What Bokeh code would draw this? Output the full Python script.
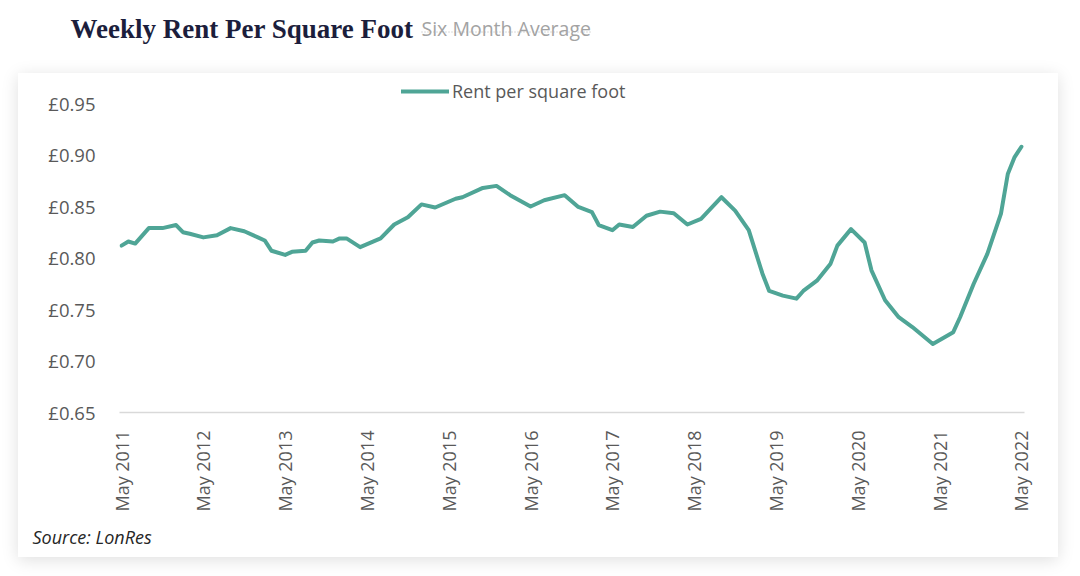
import pandas as pd
from bokeh.plotting import figure
from bokeh.models import (Range1d, FixedTicker, Legend, LegendItem, Label, Title,
                          PrintfTickFormatter, ColumnDataSource, Spacer)
from bokeh.layouts import row
from bokeh.embed import file_html
from bokeh.resources import INLINE

# ---------------- data ----------------
months = [
    "2011-05", "2011-06", "2011-07", "2011-09", "2011-11", "2012-01", "2012-02",
    "2012-03", "2012-05", "2012-07", "2012-09", "2012-11", "2013-01", "2013-02",
    "2013-03", "2013-05", "2013-06", "2013-08", "2013-09", "2013-10", "2013-12",
    "2014-01", "2014-02", "2014-04", "2014-07", "2014-09", "2014-11", "2015-01",
    "2015-03", "2015-06", "2015-07", "2015-10", "2015-12", "2016-02", "2016-05",
    "2016-07", "2016-10", "2016-12", "2017-02", "2017-03", "2017-05", "2017-06",
    "2017-08", "2017-10", "2017-12", "2018-02", "2018-04", "2018-06", "2018-09",
    "2018-11", "2019-01", "2019-03", "2019-04", "2019-06", "2019-08", "2019-09",
    "2019-11", "2020-01", "2020-02", "2020-04", "2020-06", "2020-07", "2020-09",
    "2020-11", "2021-01", "2021-04", "2021-07", "2021-08", "2021-10", "2021-12",
    "2022-02", "2022-03", "2022-04", "2022-05",
]
rent = [
    0.812, 0.816, 0.814, 0.829, 0.829, 0.832, 0.825,
    0.8235, 0.820, 0.822, 0.829, 0.826, 0.820, 0.817,
    0.807, 0.803, 0.806, 0.807, 0.815, 0.817, 0.816,
    0.819, 0.819, 0.8105, 0.819, 0.8325, 0.8395, 0.852,
    0.849, 0.8575, 0.859, 0.868, 0.870, 0.861, 0.850,
    0.856, 0.861, 0.8495, 0.8445, 0.832, 0.827, 0.8325,
    0.830, 0.841, 0.845, 0.8435, 0.8325, 0.838, 0.859,
    0.846, 0.827, 0.785, 0.768, 0.7635, 0.7605, 0.768,
    0.778, 0.7945, 0.812, 0.828, 0.815, 0.788, 0.759,
    0.7425, 0.733, 0.7165, 0.728, 0.7425, 0.775, 0.804,
    0.843, 0.8815, 0.898, 0.908,
]
tick_months = ["2011-05", "2012-05", "2013-05", "2014-05", "2015-05", "2016-05",
               "2017-05", "2018-05", "2019-05", "2020-05", "2021-05", "2022-05"]
tick_labels = ["May 2011", "May 2012", "May 2013", "May 2014", "May 2015", "May 2016",
               "May 2017", "May 2018", "May 2019", "May 2020", "May 2021", "May 2022"]
y_ticks = [0.65, 0.70, 0.75, 0.80, 0.85, 0.90, 0.95]

title_text = "Weekly Rent Per Square Foot"
subtitle_text = "Six Month Average"
legend_text = "Rent per square foot"
source_text = "Source: LonRes"

# ---------------- helpers ----------------
start = pd.Period(months[0], "M")


def month_index(s):
    return (pd.Period(s, "M") - start).n


xs = [month_index(m) for m in months]
tick_pos = [month_index(m) for m in tick_months]

LINE_COLOR = "#4fa596"
TEXT_GRAY = "#595959"
AX_FONT = "Open Sans"

# ---------------- title strip ----------------
TW, TH = 1072, 73
SUB_X, SUB_W = 421, 170
t = figure(width=TW, height=TH, output_backend="svg", toolbar_location=None,
           x_range=Range1d(0, TW), y_range=Range1d(0, TH),
           x_axis_type=None, y_axis_type=None, min_border=0,
           outline_line_color=None, border_fill_alpha=0, background_fill_alpha=0)
t.grid.visible = False
t.add_layout(Label(x=70, y=TH - 28, text=title_text, text_font="Liberation Serif",
                   text_font_style="bold", text_font_size="27px", text_color="#1c1e3c",
                   text_baseline="alphabetic"))
t.add_layout(Label(x=SUB_X, y=TH - 27.5, text=subtitle_text, text_font="Open Sans",
                   text_font_size="19.5px", text_color="#a3a3a3",
                   text_baseline="alphabetic"))
ul_src = ColumnDataSource(dict(x=[SUB_X, SUB_X + SUB_W], y=[TH - 31.5, TH - 31.5]))
t.line("x", "y", source=ul_src, line_color="#b5b5b5", line_width=1, line_dash="1 2")

# ---------------- card chart ----------------
CW, CH = 1040, 484
ML, MR, MT, MB = 101, 34, 7, 145
x0, x1 = -0.3, 132.45
y0, y1 = 0.65, 0.9723

p = figure(width=CW, height=CH, output_backend="svg", toolbar_location=None,
           x_range=Range1d(x0, x1), y_range=Range1d(y0, y1),
           min_border_left=ML, min_border_right=MR, min_border_top=MT,
           min_border_bottom=MB, outline_line_color=None,
           background_fill_color="white", border_fill_color="white")
p.styles = {"box-shadow": "0 3px 16px rgba(0,0,0,0.13)"}
p.grid.visible = False

src = ColumnDataSource(dict(x=xs, y=rent))
r = p.line("x", "y", source=src, line_color=LINE_COLOR, line_width=4,
           line_join="round", line_cap="round")

xa = p.xaxis[0]
xa.ticker = FixedTicker(ticks=tick_pos)
xa.major_label_overrides = {int(k): v for k, v in zip(tick_pos, tick_labels)}
xa.major_label_orientation = 1.5707963
xa.axis_line_color = "#d9d9d9"
xa.axis_line_width = 1.5
xa.major_tick_line_color = None
xa.minor_tick_line_color = None
xa.major_label_standoff = 12
xa.major_label_text_font = AX_FONT
xa.major_label_text_font_size = "18px"
xa.major_label_text_color = TEXT_GRAY

ya = p.yaxis[0]
ya.ticker = FixedTicker(ticks=y_ticks)
ya.formatter = PrintfTickFormatter(format="£%.2f")
ya.axis_line_color = None
ya.major_tick_line_color = None
ya.minor_tick_line_color = None
ya.major_label_standoff = 18
ya.major_label_text_font = AX_FONT
ya.major_label_text_font_size = "18.5px"
ya.major_label_text_color = TEXT_GRAY

legend = Legend(items=[LegendItem(label=legend_text, renderers=[r])],
                location=(282, 309), orientation="horizontal",
                glyph_width=48, glyph_height=20, label_standoff=3,
                padding=0, margin=0, border_line_color=None,
                background_fill_alpha=0, label_text_font=AX_FONT,
                label_text_font_size="18px", label_text_color=TEXT_GRAY)
p.add_layout(legend)

src_title = Title(text=source_text, align="left", offset=-87, standoff=16,
                  text_font=AX_FONT, text_font_style="italic",
                  text_font_size="18px", text_color="#262626")
p.add_layout(src_title, "below")

card = row(Spacer(width=18, height=CH), p, spacing=0)
open("out.html", "w").write(file_html([t, card], INLINE))
